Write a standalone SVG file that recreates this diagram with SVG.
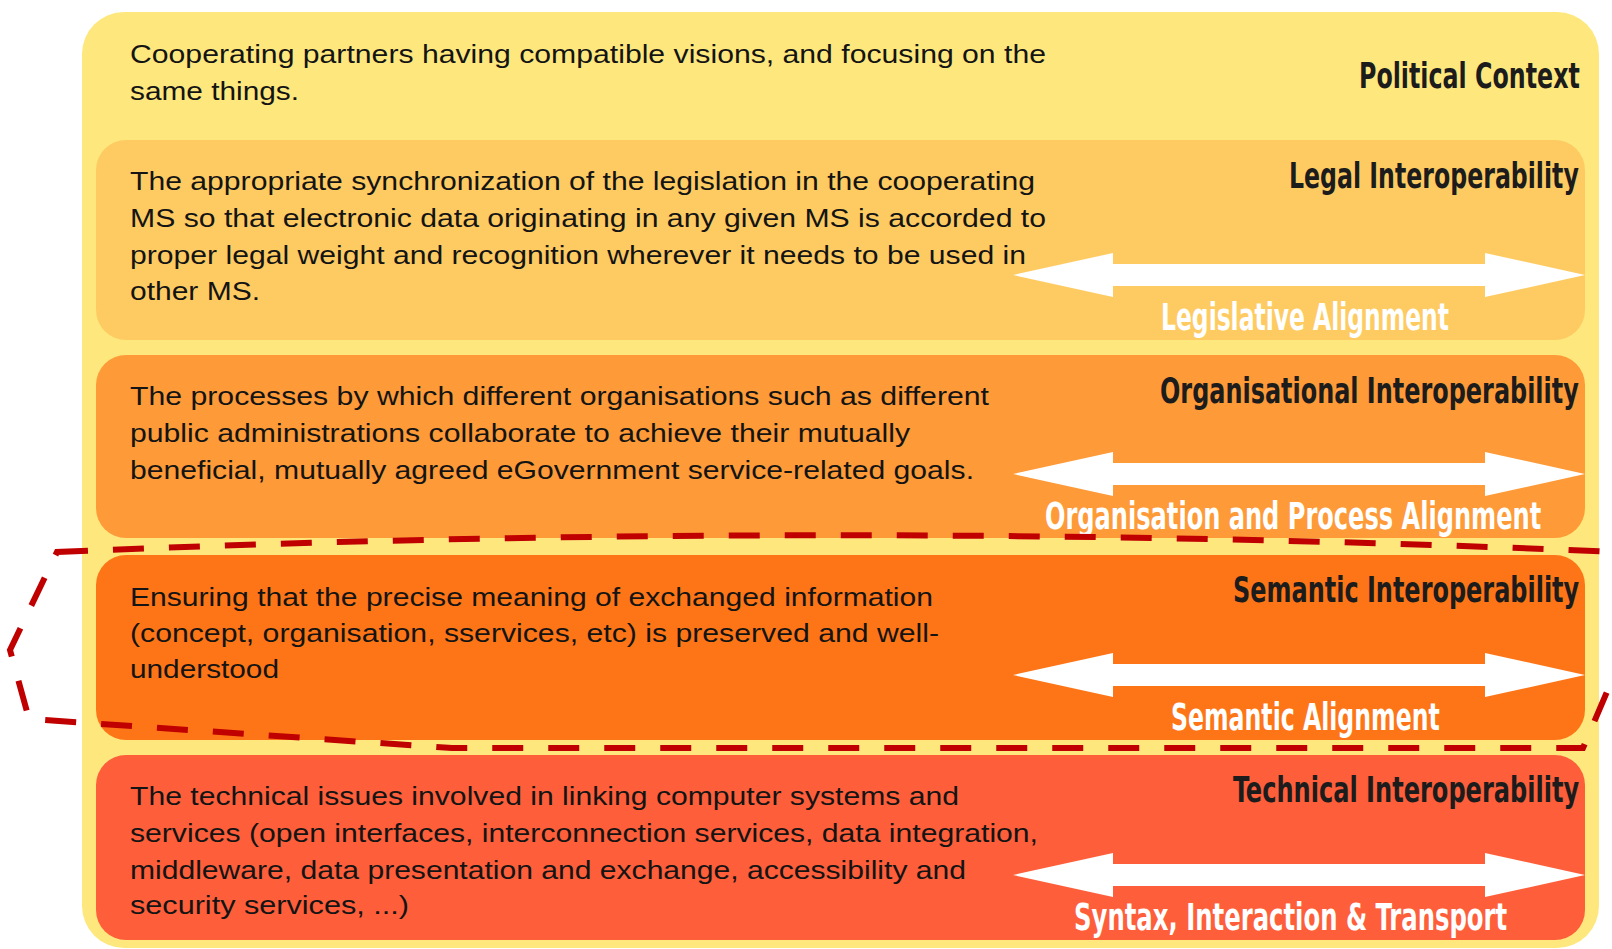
<svg xmlns="http://www.w3.org/2000/svg" width="1612" height="949" viewBox="0 0 1612 949">
<style>
.body{font-family:"Liberation Sans",Arial,sans-serif;font-size:26.5px;fill:#141414}
.head{font-family:"DejaVu Sans Condensed","DejaVu Sans",sans-serif;font-weight:bold;font-size:36px;fill:#1c1c1c}
.align{font-family:"DejaVu Sans Condensed","DejaVu Sans",sans-serif;font-weight:bold;font-size:37px;fill:#ffffff}
.arrow{fill:#ffffff}
</style>
<defs>
<polygon id="dblarrow" points="1013,0 1113,-22 1113,-11 1485,-11 1485,-22 1585,0 1485,22 1485,11 1113,11 1113,22"/>
</defs>
<rect width="1612" height="949" fill="#ffffff"/>
<g id="political">
<rect x="82" y="12" width="1517" height="936" rx="42" fill="#FEE87E"/>
<text class="body" x="130" y="63" textLength="916" lengthAdjust="spacingAndGlyphs">Cooperating partners having compatible visions, and focusing on the</text>
<text class="body" x="130" y="100" textLength="169" lengthAdjust="spacingAndGlyphs">same things.</text>
<text class="head" transform="translate(1359,88) scale(0.6,1)" textLength="368" lengthAdjust="spacingAndGlyphs">Political Context</text>
</g>
<g id="legal">
<rect x="96" y="140" width="1489" height="200" rx="30" fill="#FECB62"/>
<text class="body" x="130" y="190" textLength="905" lengthAdjust="spacingAndGlyphs">The appropriate synchronization of the legislation in the cooperating</text>
<text class="body" x="130" y="227" textLength="916" lengthAdjust="spacingAndGlyphs">MS so that electronic data originating in any given MS is accorded to</text>
<text class="body" x="130" y="264" textLength="896" lengthAdjust="spacingAndGlyphs">proper legal weight and recognition wherever it needs to be used in</text>
<text class="body" x="130" y="300" textLength="130" lengthAdjust="spacingAndGlyphs">other MS.</text>
<text class="head" transform="translate(1289,188) scale(0.6,1)" textLength="483" lengthAdjust="spacingAndGlyphs">Legal Interoperability</text>
<use href="#dblarrow" class="arrow" transform="translate(0,275)"/>
<text class="align" transform="translate(1161,330) scale(0.6,1)" textLength="480" lengthAdjust="spacingAndGlyphs">Legislative Alignment</text>
</g>
<g id="organisational">
<rect x="96" y="355" width="1489" height="183" rx="30" fill="#FE9A37"/>
<text class="body" x="130" y="405" textLength="859" lengthAdjust="spacingAndGlyphs">The processes by which different organisations such as different</text>
<text class="body" x="130" y="442" textLength="780" lengthAdjust="spacingAndGlyphs">public administrations collaborate to achieve their mutually</text>
<text class="body" x="130" y="479" textLength="844" lengthAdjust="spacingAndGlyphs">beneficial, mutually agreed eGovernment service-related goals.</text>
<text class="head" transform="translate(1160,403) scale(0.6,1)" textLength="698" lengthAdjust="spacingAndGlyphs">Organisational Interoperability</text>
<use href="#dblarrow" class="arrow" transform="translate(0,474)"/>
<text class="align" transform="translate(1045,529) scale(0.6,1)" textLength="827" lengthAdjust="spacingAndGlyphs">Organisation and Process Alignment</text>
</g>
<g id="semantic">
<rect x="96" y="555" width="1489" height="185" rx="30" fill="#FE7517"/>
<text class="body" x="130" y="606" textLength="803" lengthAdjust="spacingAndGlyphs">Ensuring that the precise meaning of exchanged information</text>
<text class="body" x="130" y="642" textLength="809" lengthAdjust="spacingAndGlyphs">(concept, organisation, sservices, etc) is preserved and well-</text>
<text class="body" x="130" y="678" textLength="149" lengthAdjust="spacingAndGlyphs">understood</text>
<text class="head" transform="translate(1233,602) scale(0.6,1)" textLength="577" lengthAdjust="spacingAndGlyphs">Semantic Interoperability</text>
<use href="#dblarrow" class="arrow" transform="translate(0,675)"/>
<text class="align" transform="translate(1171,730) scale(0.6,1)" textLength="448" lengthAdjust="spacingAndGlyphs">Semantic Alignment</text>
</g>
<g id="technical">
<rect x="96" y="755" width="1489" height="185" rx="30" fill="#FE5E3A"/>
<text class="body" x="130" y="805" textLength="829" lengthAdjust="spacingAndGlyphs">The technical issues involved in linking computer systems and</text>
<text class="body" x="130" y="842" textLength="908" lengthAdjust="spacingAndGlyphs">services (open interfaces, interconnection services, data integration,</text>
<text class="body" x="130" y="879" textLength="836" lengthAdjust="spacingAndGlyphs">middleware, data presentation and exchange, accessibility and</text>
<text class="body" x="130" y="914" textLength="279" lengthAdjust="spacingAndGlyphs">security services, ...)</text>
<text class="head" transform="translate(1233,802) scale(0.6,1)" textLength="577" lengthAdjust="spacingAndGlyphs">Technical Interoperability</text>
<use href="#dblarrow" class="arrow" transform="translate(0,875)"/>
<text class="align" transform="translate(1074,930) scale(0.6,1)" textLength="722" lengthAdjust="spacingAndGlyphs">Syntax, Interaction &amp; Transport</text>
</g>
<g id="connectors">
<path id="semantic-highlight" d="M 57 552 Q 845 518 1640 553 Q 1672 600 1612 680 L 1583 748 L 452 748 L 29 719 L 10 650 Z" fill="none" stroke="#C00000" stroke-width="6" stroke-dasharray="31 25"/>
</g>
</svg>
